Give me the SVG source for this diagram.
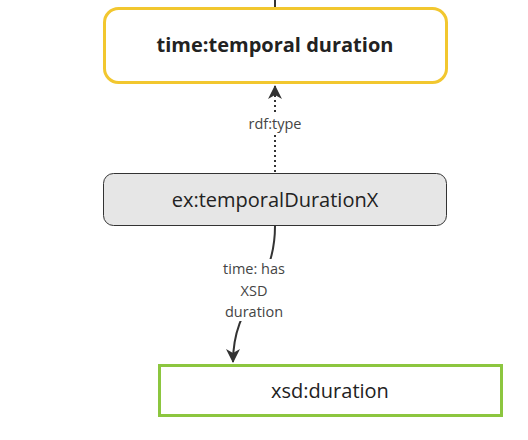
<svg xmlns="http://www.w3.org/2000/svg" width="528" height="440" viewBox="0 0 528 440">
<style>
.lbl{font-family:"Open Sans","Liberation Sans",sans-serif;font-size:14.5px;fill:#444;text-anchor:middle}
.node-text{font-family:"Open Sans","Liberation Sans",sans-serif;font-size:20px;fill:#222;text-anchor:middle}
.edge{fill:none;stroke:#333;stroke-width:2}
</style>
<defs>
<marker id="arr" viewBox="0 0 14 14" refX="13" refY="7" markerWidth="14" markerHeight="14" markerUnits="userSpaceOnUse" orient="auto">
<path d="M0,0 L14,7 L0,14 L4,7 Z" fill="#333"/>
</marker>
</defs>
<rect width="528" height="440" fill="#fff"/>
<g id="connectors">
<line class="edge" x1="275" y1="0" x2="275" y2="8"/>
<path class="edge" d="M275,172 L275,86" stroke-dasharray="2 3" marker-end="url(#arr)"/>
<path class="edge" d="M275,226 C275,290 233,300 233,362" marker-end="url(#arr)"/>
<rect x="245" y="114" width="60" height="20" fill="#fff"/>
<rect x="217" y="259" width="74" height="62" fill="#fff"/>
<text class="lbl" x="275" y="129">rdf:type</text>
<text class="lbl" x="254" y="274">time: has</text>
<text class="lbl" x="254" y="296">XSD</text>
<text class="lbl" x="254" y="317">duration</text>
</g>
<g id="node-temporal-duration">
<rect x="104.5" y="8.5" width="342" height="74" rx="14" fill="#fff" stroke="#F2C72F" stroke-width="3"/>
<text class="node-text" x="275" y="52" font-weight="bold">time:temporal duration</text>
</g>
<g id="node-temporalDurationX">
<rect x="103.5" y="173.5" width="343" height="52" rx="10" fill="#E6E6E6" stroke="#333" stroke-width="1"/>
<text class="node-text" x="275" y="207">ex:temporalDurationX</text>
</g>
<g id="node-xsd-duration">
<rect x="159.5" y="365.5" width="342" height="50" fill="#fff" stroke="#8CC63F" stroke-width="3"/>
<text class="node-text" x="330" y="398">xsd:duration</text>
</g>
</svg>
